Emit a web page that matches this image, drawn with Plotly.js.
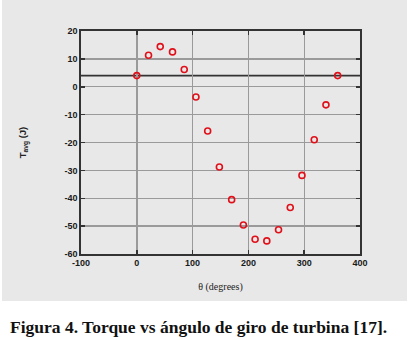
<!DOCTYPE html>
<html>
<head>
<meta charset="utf-8">
<script src="https://cdn.plot.ly/plotly-3.0.1.min.js"></script>
<style>
html,body{margin:0;padding:0;background:#fff;}
#chart{width:409px;height:340px;}
</style>
</head>
<body>
<div id="chart"></div>
<script>
// Data
const thetaDeg = [0, 21, 42, 64, 85, 106, 127, 148, 170, 191, 212, 233, 254, 275, 296, 318, 339, 360];
const torqueJ  = [4, 11.3, 14.4, 12.5, 6.2, -3.7, -15.9, -28.8, -40.5, -49.6, -54.7, -55.3, -51.3, -43.3, -31.8, -19.0, -6.5, 4];
const meanTorque = 4;
const xTicks = [-100, 0, 100, 200, 300, 400];
const yTicks = [-60, -50, -40, -30, -20, -10, 0, 10, 20];
const captionText = "Figura 4. Torque vs ángulo de giro de turbina [17].";

const W = 409, H = 340;
const mL = 81, mR = 49, mT = 31, mB = 86;
const pw = W - mL - mR, ph = H - mT - mB;
const px = v => (v - mL) / pw;          // pixel x -> paper
const py = v => (H - mB - v) / ph;      // pixel y -> paper

const tickFont = {family: "Liberation Sans, Arial, sans-serif", size: 9, color: "#1a1a1a", weight: "bold"};

const trace = {
  x: thetaDeg, y: torqueJ, type: "scatter", mode: "markers",
  marker: {symbol: "circle-open", size: 6, color: "#e0101a", line: {width: 1.6, color: "#e0101a"}},
  cliponaxis: false, showlegend: false, hoverinfo: "skip"
};

const axisCommon = {
  showgrid: true, gridcolor: "#9a9a9a", gridwidth: 1.4,
  zeroline: false, showline: true, linecolor: "#333", linewidth: 1.6,
  mirror: "ticks", ticks: "inside", ticklen: 4, tickwidth: 1.5, tickcolor: "#333",
  tickfont: tickFont, fixedrange: true
};

const layout = {
  width: W, height: H,
  margin: {l: mL, r: mR, t: mT, b: mB, pad: 0},
  paper_bgcolor: "#ffffff", plot_bgcolor: "rgba(0,0,0,0)",
  xaxis: Object.assign({}, axisCommon, {
    range: [-100, 400], tickvals: xTicks, ticktext: xTicks.map(String),
    title: {text: "θ (degrees)", font: {family: "Liberation Serif, serif", size: 10, color: "#222"}, standoff: 15}
  }),
  yaxis: Object.assign({}, axisCommon, {
    range: [-60, 20], tickvals: yTicks, ticktext: yTicks.map(String),
    title: {text: "<b>T<sub>avg</sub> (J)</b>", font: {family: "Liberation Sans, Arial, sans-serif", size: 9.5, color: "#222"}, standoff: 36}
  }),
  shapes: [
    {type: "rect", xref: "paper", yref: "paper", layer: "below",
     x0: px(2), x1: px(407), y0: py(301), y1: py(0),
     fillcolor: "#e8e8e8", line: {width: 0}},
    {type: "line", xref: "paper", yref: "y", x0: 0, x1: 1, y0: meanTorque, y1: meanTorque,
     line: {color: "#333", width: 1.6}, layer: "below"}
  ],
  annotations: [
    {text: "<b>" + captionText + "</b>", xref: "paper", yref: "paper",
     x: px(8), y: py(327), xanchor: "left", yanchor: "middle", showarrow: false,
     font: {family: "Liberation Serif, 'Times New Roman', serif", size: 17.5, color: "#111"}}
  ]
};

Plotly.newPlot("chart", [trace], layout, {staticPlot: true, displayModeBar: false});
</script>
</body>
</html>
